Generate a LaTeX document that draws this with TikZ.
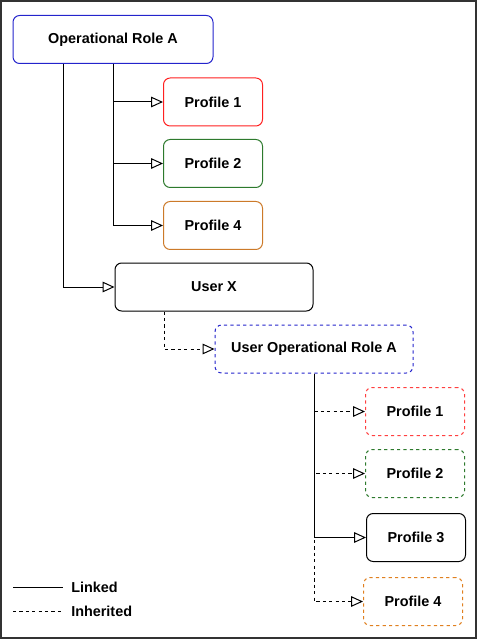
\documentclass[tikz,border=0pt]{standalone}
\usepackage{fontspec}
\setmainfont{Liberation Sans}
\usetikzlibrary{arrows.meta,calc}
\definecolor{rblue}{HTML}{2424CC}
\definecolor{rred}{HTML}{FF2020}
\definecolor{rgreen}{HTML}{2D7A2D}
\definecolor{rorange}{HTML}{CC7A29}
\definecolor{rorange2}{HTML}{E08020}
\definecolor{rred2}{HTML}{FF4040}
\tikzset{
  txt/.style={font=\fontsize{10.8}{13}\selectfont\bfseries},
  box/.style={draw, rounded corners=5pt, line width=0.75pt, fill=white,
    txt, align=center, inner sep=0pt},
  rolebox/.style={box, minimum width=148.5pt, minimum height=36pt},
  profbox/.style={box, minimum width=74.25pt, minimum height=36pt},
  dsh/.style={dash pattern=on 2.4pt off 2.4pt},
  link/.style={line width=0.75pt, -{Triangle[open,length=9pt,width=8pt]}},
  inh/.style={link, dsh},
}
\begin{document}
\begin{tikzpicture}[x=0.75pt,y=-0.75pt]
\useasboundingbox (0,0) rectangle (478,641);
\draw[line width=1.1pt, draw=black!80] (1,1) rectangle (476,638);

\node[rolebox, minimum width=150pt, draw=rblue] (opr) at (113,39.5) {Operational Role A};
\node[profbox, draw=rred] (p1a) at (213,102) {Profile 1};
\node[profbox, draw=rgreen] (p2a) at (213,163.5) {Profile 2};
\node[profbox, draw=rorange] (p4a) at (213,225.5) {Profile 4};
\node[rolebox] (userx) at (214,287) {User X};
\node[rolebox, draw=rblue, dsh] (uora) at (314,349) {User Operational Role A};
\node[profbox, draw=rred2, dsh] (p1b) at (415,411.5) {Profile 1};
\node[profbox, draw=rgreen, dsh] (p2b) at (415,473.5) {Profile 2};
\node[profbox] (p3b) at (416,537.5) {Profile 3};
\node[profbox, draw=rorange2, dsh] (p4b) at (413,601.5) {Profile 4};

\draw[link] (opr.south) |- (p1a.west);
\draw[link] (opr.south) |- (p2a.west);
\draw[link] (opr.south) |- (p4a.west);
\draw[link] ($(opr.south)+(-50,0)$) |- (userx.west);
\draw[inh] ($(userx.south)+(-50,0)$) |- (uora.west);
\draw[inh] (uora.south) |- (p1b.west);
\draw[inh] (uora.south) |- (p2b.west);
\draw[inh] (uora.south) |- (p4b.west);
\draw[link] (uora.south) |- (p3b.west);

\coordinate (l1a) at (13,587);
\coordinate (l1b) at (63,587);
\coordinate (l2a) at (13,611);
\coordinate (l2b) at (63,611);
\draw[line width=0.75pt] (l1a) -- (l1b);
\draw[line width=0.75pt, dsh] (l2a) -- (l2b);
\node[anchor=west, txt, inner sep=0pt] (lk) at (71,587) {Linked};
\node[anchor=west, txt, inner sep=0pt] (ih) at (71,611) {Inherited};
\end{tikzpicture}
\end{document}
